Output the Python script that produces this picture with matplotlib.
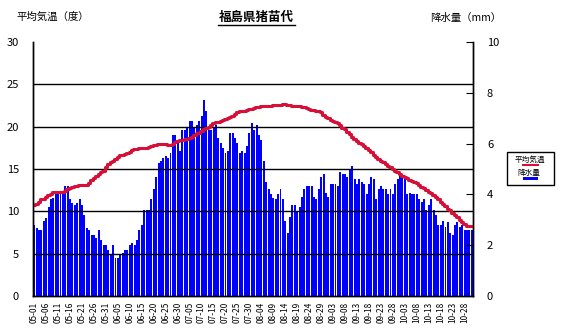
import matplotlib
matplotlib.use("Agg")
from matplotlib import pyplot as plt
from matplotlib.patches import Rectangle
from matplotlib.lines import Line2D
import numpy as np

plt.rcParams['font.family'] = ['Noto Sans CJK JP', 'DejaVu Sans']

# daily mean temperature (deg C), 05-01 .. 10-31
temp = [
    10.8, 10.9, 11.1, 11.4, 11.5, 11.7, 11.9, 12.0, 12.3, 12.3,
    12.3, 12.3, 12.3, 12.4, 12.6, 12.8, 12.9, 13.0, 13.0, 13.1,
    13.1, 13.1, 13.1, 13.4, 13.7, 13.9, 14.2, 14.4, 14.6, 14.8,
    15.2, 15.6, 15.8, 16.0, 16.2, 16.4, 16.6, 16.7, 16.8, 16.9,
    17.0, 17.2, 17.4, 17.4, 17.5, 17.5, 17.5, 17.5, 17.6, 17.7,
    17.8, 17.8, 17.9, 17.9, 17.9, 17.9, 17.8, 17.8, 18.0, 18.2,
    18.3, 18.4, 18.4, 18.5, 18.5, 18.7, 18.8, 19.0, 19.2, 19.3,
    19.5, 19.7, 19.9, 20.0, 20.2, 20.4, 20.5, 20.6, 20.7, 20.8,
    20.9, 21.0, 21.1, 21.3, 21.5, 21.7, 21.8, 21.8, 21.9, 22.0,
    22.1, 22.1, 22.2, 22.3, 22.3, 22.4, 22.4, 22.5, 22.5, 22.5,
    22.6, 22.6, 22.6, 22.6, 22.7, 22.7, 22.6, 22.6, 22.5, 22.5,
    22.4, 22.4, 22.3, 22.3, 22.2, 22.1, 22.0, 22.0, 21.9, 21.8,
    21.7, 21.4, 21.1, 21.0, 20.8, 20.7, 20.6, 20.4, 20.2, 19.9,
    19.7, 19.4, 19.1, 18.8, 18.5, 18.3, 18.1, 17.9, 17.7, 17.5,
    17.3, 17.0, 16.7, 16.4, 16.2, 16.0, 15.8, 15.6, 15.4, 15.2,
    15.0, 14.8, 14.6, 14.4, 14.2, 14.0, 13.9, 13.7, 13.6, 13.5,
    13.3, 13.1, 12.9, 12.7, 12.5, 12.3, 12.2, 11.9, 11.7, 11.4,
    11.1, 10.9, 10.6, 10.3, 10.1, 9.8, 9.6, 9.3, 9.0, 8.7,
    8.5, 8.3, 8.3, 8.3,
]

# daily precipitation (mm)
precip = [
    2.78, 2.69, 2.59, 2.59, 2.97, 3.08, 3.50, 3.80, 3.87, 4.10,
    4.10, 4.10, 4.03, 4.32, 4.32, 3.80, 3.67, 3.60, 3.67, 3.80,
    3.60, 3.17, 2.69, 2.59, 2.39, 2.39, 2.30, 2.59, 2.20, 2.00,
    2.00, 1.80, 1.67, 2.00, 1.50, 1.50, 1.63, 1.70, 1.80, 1.80,
    2.00, 2.07, 2.00, 2.20, 2.59, 2.78, 3.40, 3.40, 3.40, 3.80,
    4.20, 4.70, 5.23, 5.30, 5.43, 5.50, 5.43, 5.63, 6.33, 6.33,
    6.13, 5.70, 6.53, 6.53, 6.60, 6.90, 6.90, 6.63, 6.73, 6.90,
    7.10, 7.70, 7.30, 6.53, 6.53, 6.63, 6.73, 6.23, 6.03, 5.83,
    5.63, 5.70, 6.42, 6.42, 6.23, 6.03, 5.63, 5.70, 5.63, 5.90,
    6.42, 6.80, 6.53, 6.73, 6.33, 6.13, 5.30, 4.50, 4.20, 4.00,
    3.87, 3.80, 4.00, 4.20, 3.80, 2.97, 2.50, 3.10, 3.60, 3.60,
    3.33, 3.50, 3.88, 4.20, 4.32, 4.32, 4.32, 3.88, 3.80, 4.20,
    4.70, 4.80, 4.07, 3.88, 4.40, 4.40, 4.40, 4.32, 4.90, 4.80,
    4.80, 4.70, 5.00, 5.10, 4.60, 4.40, 4.60, 4.50, 4.40, 4.00,
    4.40, 4.70, 4.60, 3.80, 4.20, 4.32, 4.20, 4.20, 4.00, 4.20,
    4.00, 4.40, 4.60, 4.90, 4.70, 4.60, 4.00, 4.07, 4.00, 4.00,
    4.00, 3.80, 3.70, 3.80, 3.40, 3.60, 3.80, 3.40, 3.17, 2.78,
    2.78, 2.97, 2.70, 2.90, 2.50, 2.40, 2.78, 2.90, 2.70, 2.78,
    2.59, 2.59, 2.59, 2.59,
]

tick_labels = [
    "05-01", "05-06", "05-11", "05-16", "05-21", "05-26", "05-31",
    "06-05", "06-10", "06-15", "06-20", "06-25", "06-30",
    "07-05", "07-10", "07-15", "07-20", "07-25", "07-30",
    "08-04", "08-09", "08-14", "08-19", "08-24", "08-29",
    "09-03", "09-08", "09-13", "09-18", "09-23", "09-28",
    "10-03", "10-08", "10-13", "10-18", "10-23", "10-28",
]

days = np.arange(len(temp))
red = '#d81038'
blue = '#0000ff'

fig = plt.figure(figsize=(5.67, 3.34), dpi=100)
ax = fig.add_axes([33 / 567, 1 - 296 / 334, 440 / 567, 254 / 334])
ax2 = ax.twinx()

ax2.bar(days, precip, width=0.82, color=blue, linewidth=0)
ax2.set_ylim(0, 10)
ax2.set_yticks([0, 2, 4, 6, 8, 10])
ax2.tick_params(axis='y', direction='in', length=5, pad=10, labelsize=8)

ax.set_zorder(ax2.get_zorder() + 1)
ax.patch.set_visible(False)
for y in [5, 10, 15, 20, 25]:
    ax.axhline(y, color='black', linewidth=1.0)
ax.step(days, temp, where='mid', color=red, linewidth=2.2)
ax.set_ylim(0, 30)
ax.set_xlim(-0.5, len(temp) - 0.5)
ax.set_yticks([0, 5, 10, 15, 20, 25, 30])
ax.tick_params(axis='y', length=0, pad=10, labelsize=8)
ax.set_xticks(days[::5])
ax.set_xticklabels(tick_labels, rotation=90, fontsize=6)
ax.tick_params(axis='x', length=0, pad=4)

for a in (ax, ax2):
    a.spines['top'].set_visible(False)
    for s in ('left', 'right', 'bottom'):
        a.spines[s].set_linewidth(1.0)
        a.spines[s].set_color('black')

fig.text(53 / 567, 1 - 17 / 334, "平均気温（度）", fontsize=7.5, ha='center', va='center')
fig.text(466 / 567, 1 - 18 / 334, "降水量（mm）", fontsize=7.5, ha='center', va='center')
fig.text(256 / 567, 1 - 17 / 334, "福島県猪苗代", fontsize=9, fontweight='bold',
         ha='center', va='center')
fig.add_artist(Line2D([218 / 567, 295 / 567], [1 - 25 / 334, 1 - 25 / 334],
                      color='black', linewidth=1.0))

# legend box
fig.add_artist(Rectangle((507 / 567, 1 - 185 / 334), 47 / 567, 33 / 334,
                         fill=False, edgecolor='black', linewidth=1.0))
fig.text(530 / 567, 1 - 159.5 / 334, "平均気温", fontsize=5.5, ha='center', va='center')
fig.add_artist(Line2D([523 / 567, 538 / 567], [1 - 165 / 334, 1 - 165 / 334],
                      color=red, linewidth=1.5))
fig.text(529 / 567, 1 - 173 / 334, "降水量", fontsize=5.5, ha='center', va='center')
fig.add_artist(Rectangle((523 / 567, 1 - 180 / 334), 15 / 567, 3.5 / 334,
                         facecolor=blue, edgecolor='none'))

fig.savefig("out.png", dpi=100)
